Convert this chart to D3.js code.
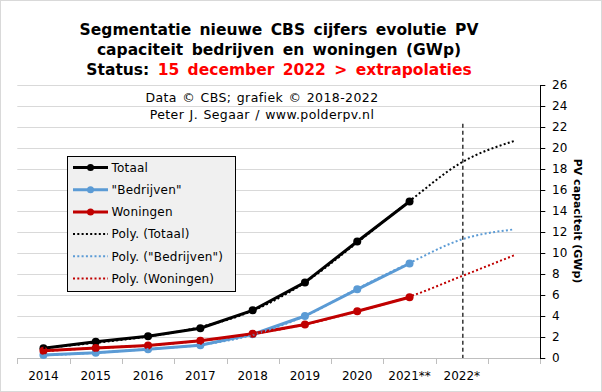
<!DOCTYPE html>
<html>
<head>
<meta charset="utf-8">
<script src="https://cdn.jsdelivr.net/npm/d3@7"></script>
<style>
  html, body { margin: 0; padding: 0; background: #fff; }
  svg { display: block; }
  text { font-family: "DejaVu Sans", Verdana, sans-serif; }
</style>
</head>
<body>
<svg id="chart" width="602" height="392"></svg>
<script>
// ---------- data ----------
const categories = ["2014", "2015", "2016", "2017", "2018", "2019", "2020", "2021", "2022", "2023"];
const tickLabels = ["2014", "2015", "2016", "2017", "2018", "2019", "2020", "2021**", "2022*", ""];
const dataYears = ["2014", "2015", "2016", "2017", "2018", "2019", "2020", "2021"];

const totaal    = [0.92, 1.55, 2.07, 2.83, 4.54, 7.2, 11.1, 14.9];
const bedrijven = [0.29, 0.5, 0.83, 1.21, 2.26, 4.0, 6.54, 9.0];
const woningen  = [0.7, 0.95, 1.2, 1.65, 2.3, 3.2, 4.45, 5.78];

// polynomial trend lines, 2014..2023
const trendTotaal    = [0.95, 1.45, 2.05, 2.95, 4.5, 7.2, 11.0, 14.95, 18.64, 20.67];
const trendBedrijven = [0.25, 0.5, 0.85, 1.25, 2.2, 4.0, 6.6, 9.05, 11.3, 12.25];
const trendWoningen  = [0.65, 0.95, 1.2, 1.65, 2.3, 3.2, 4.45, 5.85, 7.8, 9.78];

const yTicks = [0, 2, 4, 6, 8, 10, 12, 14, 16, 18, 20, 22, 24, 26];
const dashedLineCategory = "2022";
const dashedLineTop = 22.3;

const seriesNames = ["Totaal", "\"Bedrijven\"", "Woningen"];
const trendNames = ["Poly. (Totaal)", "Poly. (\"Bedrijven\")", "Poly. (Woningen)"];
const seriesColors = ["#000000", "#5B9BD5", "#C00000"];

// ---------- layout ----------
const svg = d3.select("#chart");
const W = 602, H = 392;
const plot = { left: 17.3, right: 540.3, top: 85, bottom: 358 };

svg.append("rect").attr("x", 0.5).attr("y", 0.5).attr("width", W - 1).attr("height", H - 1)
  .attr("fill", "#fff").attr("stroke", "#d9d9d9");

const x = d3.scaleBand().domain(categories).range([plot.left, plot.right]).padding(0);
const y = d3.scaleLinear().domain([0, 26]).range([plot.bottom, plot.top]);
const cx = c => x(c) + x.bandwidth() / 2;

// gridlines
svg.append("g").selectAll("line").data(yTicks.filter(d => d > 0)).join("line")
  .attr("x1", plot.left).attr("x2", plot.right)
  .attr("y1", d => Math.round(y(d)) + 0.5).attr("y2", d => Math.round(y(d)) + 0.5)
  .attr("stroke", "#d9d9d9").attr("stroke-width", 1);

// x axis line + ticks on band boundaries
const xa = svg.append("g");
xa.append("line").attr("x1", plot.left).attr("x2", plot.right)
  .attr("y1", plot.bottom + 0.5).attr("y2", plot.bottom + 0.5).attr("stroke", "#bfbfbf");
const bounds = categories.map(c => x(c)).concat([x.range()[1]]);
xa.selectAll("line.tk").data(bounds).join("line").attr("class", "tk")
  .attr("x1", d => Math.round(d) + 0.5).attr("x2", d => Math.round(d) + 0.5)
  .attr("y1", plot.bottom).attr("y2", plot.bottom + 6).attr("stroke", "#bfbfbf");
xa.selectAll("text").data(categories).join("text")
  .attr("x", (d) => cx(d)).attr("y", 380)
  .attr("text-anchor", "middle").attr("font-size", 12).attr("fill", "#000")
  .text((d, i) => tickLabels[i]);

// right y axis
const ya = svg.append("g");
ya.append("line").attr("x1", Math.round(plot.right) + 0.5).attr("x2", Math.round(plot.right) + 0.5)
  .attr("y1", plot.top).attr("y2", plot.bottom + 1).attr("stroke", "#000");
ya.selectAll("line.tk").data(yTicks).join("line").attr("class", "tk")
  .attr("x1", plot.right).attr("x2", plot.right + 5)
  .attr("y1", d => Math.round(y(d)) + 0.5).attr("y2", d => Math.round(y(d)) + 0.5)
  .attr("stroke", "#000");
ya.selectAll("text").data(yTicks).join("text")
  .attr("x", 552).attr("y", d => y(d)).attr("dy", "0.36em")
  .attr("font-size", 12).attr("fill", "#000").text(d => d);

svg.append("text")
  .attr("transform", "translate(574,221) rotate(90)")
  .attr("text-anchor", "middle").attr("font-size", 11).attr("font-weight", "bold")
  .text("PV capaciteit (GWp)");

// dashed vertical line
svg.append("line")
  .attr("x1", cx(dashedLineCategory) + 1).attr("x2", cx(dashedLineCategory) + 1)
  .attr("y1", y(dashedLineTop)).attr("y2", plot.bottom)
  .attr("stroke", "#000").attr("stroke-width", 1.2).attr("stroke-dasharray", "4,3");

// series
const line = d3.line().x(d => cx(d.c)).y(d => y(d.v));
const trendLine = d3.line().x(d => cx(d.c)).y(d => y(d.v)).curve(d3.curveMonotoneX);

const seriesData = [totaal, bedrijven, woningen];
const trendData = [trendTotaal, trendBedrijven, trendWoningen];

seriesData.forEach((vals, i) => {
  const pts = vals.map((v, j) => ({ c: dataYears[j], v }));
  svg.append("path").datum(pts).attr("d", line)
    .attr("fill", "none").attr("stroke", seriesColors[i]).attr("stroke-width", 3)
    .attr("stroke-linejoin", "round");
  svg.append("g").selectAll("circle").data(pts).join("circle")
    .attr("cx", d => cx(d.c)).attr("cy", d => y(d.v)).attr("r", 4)
    .attr("fill", seriesColors[i]);
});
trendData.forEach((vals, i) => {
  const pts = vals.map((v, j) => ({ c: categories[j], v }));
  svg.append("path").datum(pts).attr("d", trendLine)
    .attr("fill", "none").attr("stroke", seriesColors[i]).attr("stroke-width", 2)
    .attr("stroke-dasharray", "2,2.3");
});

// legend
const lg = svg.append("g");
lg.append("rect").attr("x", 67.5).attr("y", 156.5).attr("width", 168).attr("height", 135)
  .attr("fill", "#f0f0f0").attr("stroke", "#000").attr("stroke-width", 1);
const legendItems = seriesNames.map((n, i) => ({ n, c: seriesColors[i], trend: false }))
  .concat(trendNames.map((n, i) => ({ n, c: seriesColors[i], trend: true })));
legendItems.forEach((it, i) => {
  const yy = 167.5 + i * 22.2;
  const g = lg.append("g");
  g.append("line").attr("x1", 73).attr("x2", 108).attr("y1", yy).attr("y2", yy)
    .attr("stroke", it.c).attr("stroke-width", it.trend ? 2 : 3)
    .attr("stroke-dasharray", it.trend ? "2,2.3" : null);
  if (!it.trend) g.append("circle").attr("cx", 90.5).attr("cy", yy).attr("r", 3.5).attr("fill", it.c);
  g.append("text").attr("x", 111.5).attr("y", yy).attr("dy", "0.36em")
    .attr("font-size", 12).attr("letter-spacing", 0.2).attr("fill", "#000").text(it.n);
});

// subtitle texts
svg.append("text").attr("x", 262).attr("y", 97).attr("dy", "0.36em").attr("text-anchor", "middle")
  .attr("font-size", 12.5).attr("letter-spacing", 0.4).attr("word-spacing", 1)
  .text("Data © CBS;  grafiek © 2018-2022");
svg.append("text").attr("x", 262).attr("y", 114).attr("dy", "0.36em").attr("text-anchor", "middle")
  .attr("font-size", 12.5).attr("letter-spacing", 0.4).attr("word-spacing", 1)
  .text("Peter J. Segaar / www.polderpv.nl");

// title
const t = svg.append("text").attr("text-anchor", "middle").attr("font-size", 15.5)
  .attr("font-weight", "bold").attr("word-spacing", 3);
t.append("tspan").attr("x", 279).attr("y", 35).text("Segmentatie nieuwe CBS cijfers evolutie PV");
t.append("tspan").attr("x", 279).attr("y", 54.5).text("capaciteit bedrijven en woningen (GWp)");
const t3 = t.append("tspan").attr("x", 279).attr("y", 74.5);
t3.append("tspan").text("Status: ");
t3.append("tspan").attr("fill", "#FF0000").text("15 december 2022 > extrapolaties");
</script>
</body>
</html>
